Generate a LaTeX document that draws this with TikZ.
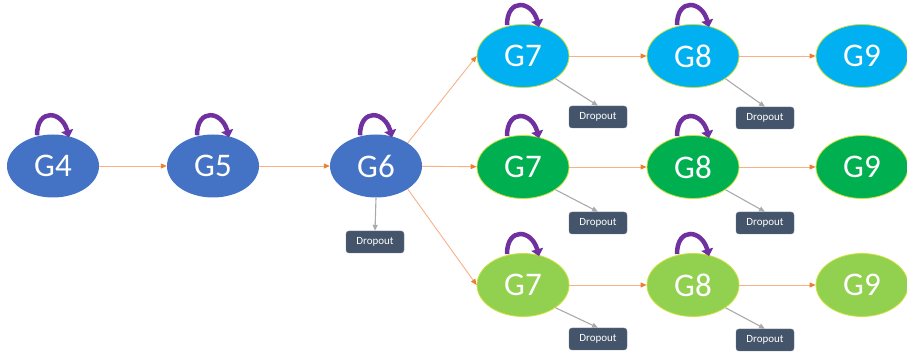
\documentclass[tikz,border=0pt]{standalone}
\usepackage{fontspec}
\setmainfont{Carlito}
\usetikzlibrary{shapes.geometric,arrows.meta}

\definecolor{gblue}{RGB}{68,114,196}
\definecolor{gcyan}{RGB}{0,176,240}
\definecolor{ggreen}{RGB}{0,176,80}
\definecolor{glight}{RGB}{146,208,80}
\definecolor{rim}{RGB}{205,225,60}
\definecolor{slate}{RGB}{68,84,106}
\definecolor{loopc}{RGB}{112,48,160}
\definecolor{orline}{RGB}{246,178,135}
\definecolor{ortip}{RGB}{237,125,49}
\definecolor{grline}{RGB}{170,170,170}

\tikzset{
  gen/.style={ellipse, minimum width=92pt, minimum height=63pt, inner sep=0pt,
              text=white, text depth=0pt, font=\fontsize{33}{33}\selectfont},
  bluegen/.style={gen, fill=gblue},
  cyangen/.style={gen, fill=gcyan, draw=rim, line width=0.8pt},
  greengen/.style={gen, fill=ggreen, draw=rim, line width=0.8pt},
  lightgen/.style={gen, fill=glight, draw=rim, line width=0.8pt},
  dropbox/.style={rectangle, rounded corners=3pt, fill=slate, draw=slate!80!white,
                  minimum width=58pt, minimum height=22pt, inner sep=0pt,
                  text=white, font=\fontsize{11}{11}\selectfont},
  flow/.style={draw=orline, line width=0.9pt,
               -{Triangle[length=6pt,width=5pt,fill=ortip,color=ortip]}},
  drop/.style={draw=grline, line width=1.1pt,
               -{Triangle[length=6pt,width=5pt,fill=grline,color=grline]}},
  selfloop/.style={draw=loopc, line width=4.5pt,
                   -{Triangle[length=7pt,width=12pt]}},
}

\newcommand\genloop[1]{%
  \draw[selfloop] ([xshift=-16pt,yshift=-1pt]#1.north)
    to[out=90,in=105,looseness=2.2] ([xshift=16pt,yshift=-3pt]#1.north);}

\begin{document}
\begin{tikzpicture}[x=1pt,y=1pt]
\useasboundingbox (0,0) rectangle (907,352);

% generation nodes
\node[bluegen] (g4) at (53,186) {G4};
\node[bluegen] (g5) at (213,186) {G5};
\node[bluegen] (g6) at (376,186) {G6};

\node[cyangen] (a7) at (523,296) {G7};
\node[cyangen] (a8) at (693,296) {G8};
\node[cyangen] (a9) at (862,296) {G9};

\node[greengen] (b7) at (523,185) {G7};
\node[greengen] (b8) at (693,185) {G8};
\node[greengen] (b9) at (862,185) {G9};

\node[lightgen] (c7) at (523,67) {G7};
\node[lightgen] (c8) at (693,67) {G8};
\node[lightgen] (c9) at (862,67) {G9};

% dropout boxes
\node[dropbox] (d6)  at (375,110) {Dropout};
\node[dropbox] (da7) at (598,235) {Dropout};
\node[dropbox] (da8) at (765,234) {Dropout};
\node[dropbox] (db7) at (598,129) {Dropout};
\node[dropbox] (db8) at (765,129) {Dropout};
\node[dropbox] (dc7) at (598,13)  {Dropout};
\node[dropbox] (dc8) at (765,12)  {Dropout};

% forward connections
\draw[flow] (g4) -- (g5);
\draw[flow] (g5) -- (g6);
\draw[flow] (g6.36) -- (a7.west);
\draw[flow] (g6) -- (b7);
\draw[flow] (g6.-36) -- (c7.west);
\draw[flow] (a7) -- (a8);
\draw[flow] (a8) -- (a9);
\draw[flow] (b7) -- (b8);
\draw[flow] (b8) -- (b9);
\draw[flow] (c7) -- (c8);
\draw[flow] (c8) -- (c9);

% dropout connections
\draw[drop] (g6.south) -- (d6.north);
\draw[drop] (a7.-35) -- (da7.north);
\draw[drop] (a8.-35) -- (da8.north);
\draw[drop] (b7.-35) -- (db7.north);
\draw[drop] (b8.-35) -- (db8.north);
\draw[drop] (c7.-35) -- (dc7.north);
\draw[drop] (c8.-35) -- (dc8.north);

% self loops
\genloop{g4}
\genloop{g5}
\genloop{g6}
\genloop{a7}
\genloop{a8}
\genloop{b7}
\genloop{b8}
\genloop{c7}
\genloop{c8}
\end{tikzpicture}
\end{document}
